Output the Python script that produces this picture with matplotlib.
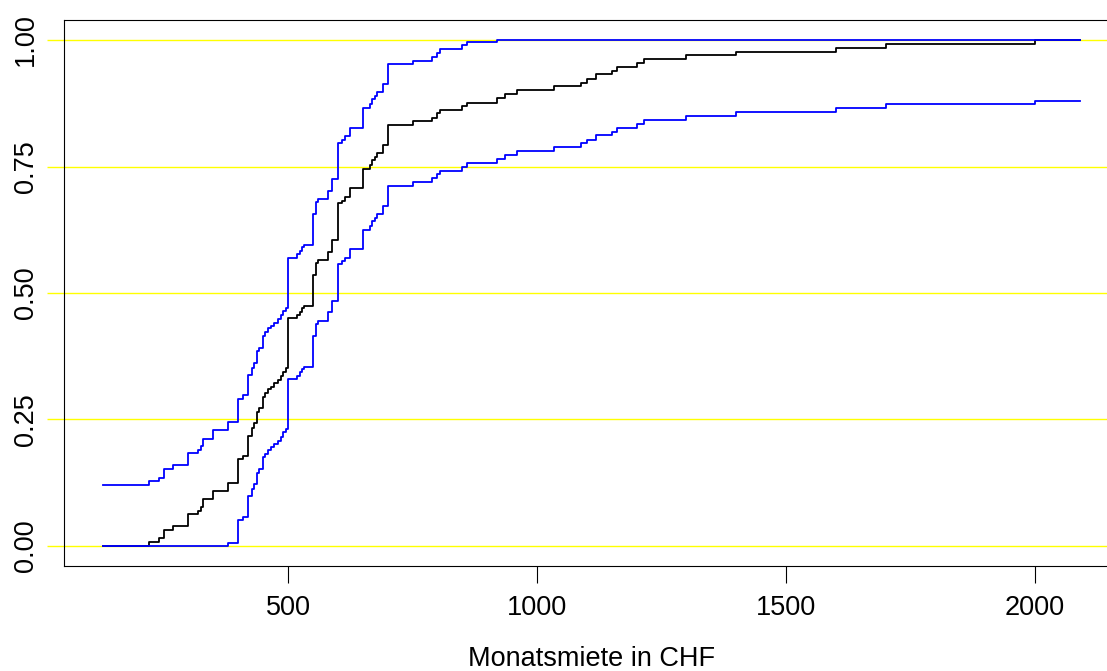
import numpy as np
import matplotlib
matplotlib.use("Agg")
import matplotlib.pyplot as plt

plt.rcParams['font.family'] = ['Liberation Sans', 'DejaVu Sans']

# ECDF knots (monthly rent, CHF) and ECDF level after each jump
rent_knots = [220, 240, 250, 270, 300, 320, 325, 330, 350, 380,
              400, 410, 420, 428, 432, 437, 442, 450, 454, 460,
              465, 472, 480, 485, 490, 495, 500, 518, 524, 528,
              533, 550, 557, 561, 580, 588, 600, 608, 615, 625,
              650, 665, 669, 674, 679, 690, 700, 750, 790, 800,
              806, 850, 860, 920, 935, 960, 1035, 1088, 1100, 1118,
              1150, 1160, 1200, 1215, 1300, 1400, 1600, 1700, 2000]
ecdf_levels = [0.0085, 0.015, 0.0316, 0.0395, 0.063, 0.070, 0.078, 0.092, 0.109, 0.125,
               0.171, 0.178, 0.218, 0.2326, 0.2425, 0.265, 0.272, 0.295, 0.302, 0.310,
               0.315, 0.3215, 0.328, 0.336, 0.3445, 0.351, 0.450, 0.4565, 0.463, 0.470,
               0.474, 0.5356, 0.559, 0.565, 0.5817, 0.6047, 0.677, 0.6825, 0.690, 0.707,
               0.745, 0.753, 0.763, 0.769, 0.777, 0.7925, 0.832, 0.839, 0.8465, 0.855,
               0.862, 0.8696, 0.876, 0.885, 0.893, 0.901, 0.909, 0.916, 0.923, 0.932,
               0.939, 0.946, 0.954, 0.962, 0.970, 0.977, 0.985, 0.993, 1.0]
line_start, line_end = 129, 2090
band_eps = 0.12          # half-width of the confidence band

x_ticks = [500, 1000, 1500, 2000]
y_ticks = [0.0, 0.25, 0.5, 0.75, 1.0]
y_tick_labels = ["0.00", "0.25", "0.50", "0.75", "1.00"]
ref_levels = [0.0, 0.25, 0.5, 0.75, 1.0]
x_label = "Monatsmiete in CHF"

W, H = 1107, 671
fig = plt.figure(figsize=(W / 100, H / 100), dpi=100)
left, right, top, bottom = 64.2, 1118.9, 19.8, 566.2
ax = fig.add_axes([left / W, (H - bottom) / H, (right - left) / W, (bottom - top) / H])

for h in ref_levels:
    ax.axhline(h, color="#FFFF00", lw=1.0, zorder=1)

xs = np.r_[line_start, rent_knots, line_end]
F = np.r_[0.0, ecdf_levels, ecdf_levels[-1]]
upper = np.minimum(F + band_eps, 1.0)
lower = np.maximum(F - band_eps, 0.0)

ax.step(xs, F, where="post", color="black", lw=1.3, zorder=2)
ax.step(xs, upper, where="post", color="#0000FF", lw=1.3, zorder=3)
ax.step(xs, lower, where="post", color="#0000FF", lw=1.3, zorder=3)

ax.set_xlim(50.6, 2168.4)
ax.set_ylim(-0.04, 1.04)
ax.set_xticks(x_ticks)
ax.set_xticklabels([str(t) for t in x_ticks])
ax.set_yticks(y_ticks)
ax.set_yticklabels(y_tick_labels, rotation=90, va="center")

ax.tick_params(axis="x", length=12, width=0.8, pad=9, labelsize=19.5, direction="out", color="black")
ax.tick_params(axis="y", length=12, width=1.0, pad=6, labelsize=19.5, direction="out", color="#FFFF00")
for s in ax.spines.values():
    s.set_linewidth(0.8)
    s.set_color("black")

fig.text(591.5 / W, 1 - 659 / H, x_label, ha="center", va="center", fontsize=19.5)

fig.savefig("out.png", dpi=100)
